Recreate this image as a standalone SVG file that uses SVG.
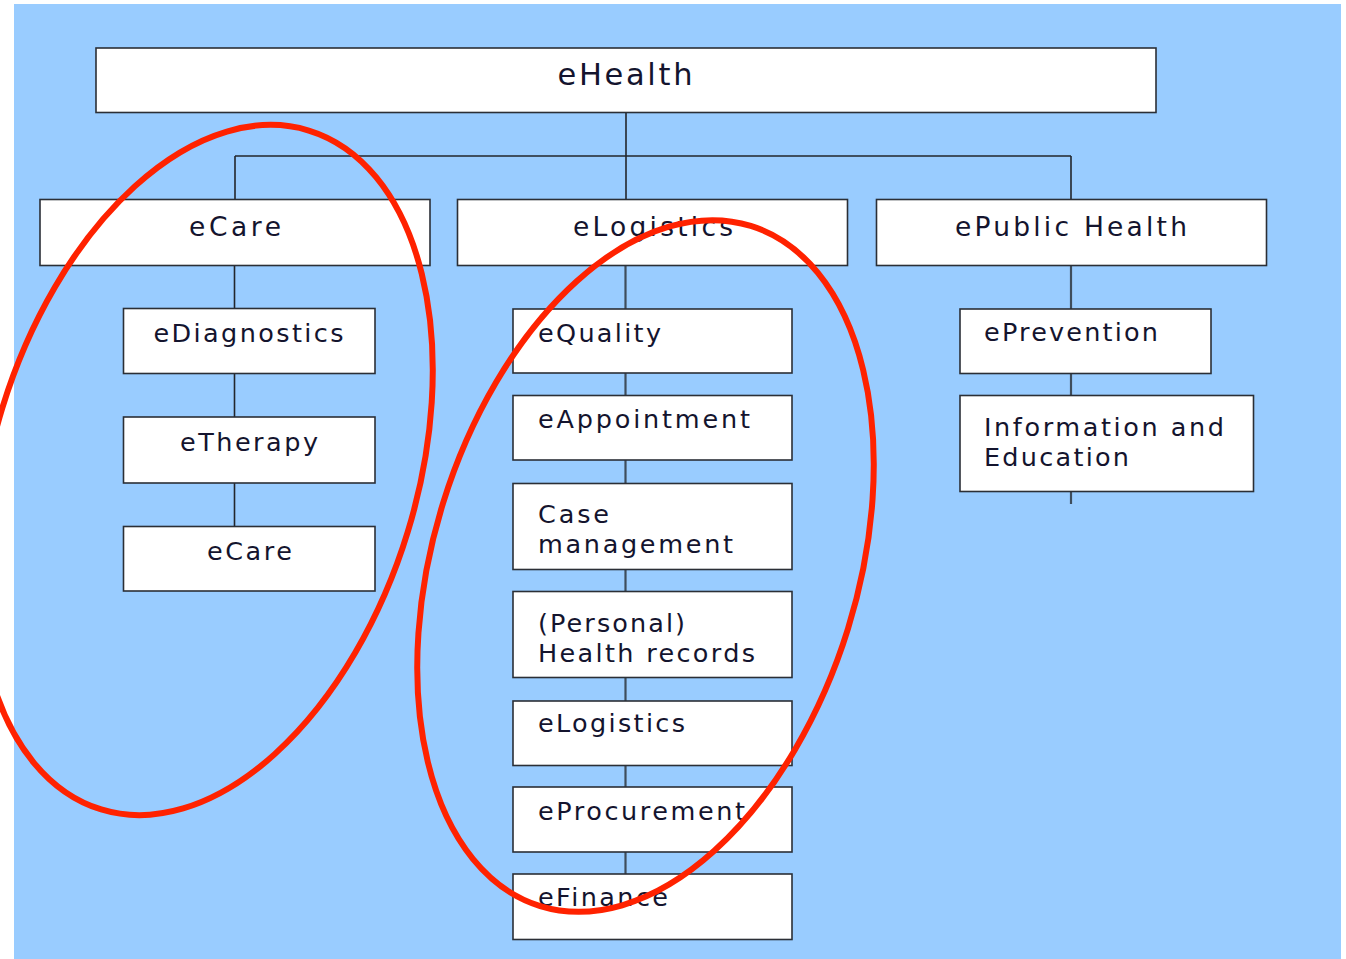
<svg xmlns="http://www.w3.org/2000/svg" width="1346" height="959" viewBox="0 0 1346 959">
<style>
.box{fill:#ffffff;stroke:#2b2f36;stroke-width:1.6}
.t{font-family:"DejaVu Sans","Liberation Sans",sans-serif;fill:#14142e;font-size:25.5px}
.th{font-size:26.5px}
.c{text-anchor:middle}
.ln{stroke:#22262c;stroke-width:1.6;fill:none}
.lg{stroke:#3e4d5c;stroke-width:2.2;fill:none}
.ring{fill:none;stroke:#ff2200;stroke-width:6}
</style>
<rect x="0" y="0" width="1346" height="959" fill="#ffffff"/>
<rect x="14" y="4" width="1327" height="955" fill="#99ccff"/>
<g id="connectors">
<path class="ln" d="M626 112V156M235 156H1071M235 156V200M626 156V200M1071 156V200"/>
<path class="ln" d="M234.5 265V527"/>
<path class="lg" d="M625.5 265V874"/>
<path class="lg" d="M1071 265V504"/>
</g>
<g id="n-ehealth"><rect class="box" x="96" y="48" width="1060" height="64.5"/><text class="t c" x="625" y="84.5" style="font-size:30.5px" textLength="135" lengthAdjust="spacing">eHealth</text></g>
<g id="n-ecare-top"><rect class="box" x="40" y="199.5" width="390" height="66"/><text class="t th c" x="235" y="236" textLength="92" lengthAdjust="spacing">eCare</text></g>
<g id="n-elogistics-top"><rect class="box" x="457.5" y="199.5" width="390" height="66"/><text class="t th c" x="653" y="235.5" textLength="160" lengthAdjust="spacing">eLogistics</text></g>
<g id="n-epublichealth"><rect class="box" x="876.5" y="199.5" width="390" height="66"/><text class="t th c" x="1071" y="236" textLength="232" lengthAdjust="spacing">ePublic Health</text></g>
<g id="n-ediagnostics"><rect class="box" x="123.5" y="308.5" width="251.5" height="65"/><text class="t c" x="248.5" y="342" textLength="190" lengthAdjust="spacing">eDiagnostics</text></g>
<g id="n-etherapy"><rect class="box" x="123.5" y="417" width="251.5" height="66"/><text class="t c" x="249" y="451" textLength="138" lengthAdjust="spacing">eTherapy</text></g>
<g id="n-ecare"><rect class="box" x="123.5" y="526.5" width="251.5" height="64.5"/><text class="t c" x="249.5" y="559.5" textLength="85" lengthAdjust="spacing">eCare</text></g>
<g id="n-equality"><rect class="box" x="513" y="309" width="279" height="64"/><text class="t" x="538" y="342" textLength="123" lengthAdjust="spacing">eQuality</text></g>
<g id="n-eappointment"><rect class="box" x="513" y="395.5" width="279" height="64.5"/><text class="t" x="538" y="428" textLength="212" lengthAdjust="spacing">eAppointment</text></g>
<g id="n-casemanagement"><rect class="box" x="513" y="483.5" width="279" height="86"/><text class="t" x="538" y="523" textLength="71" lengthAdjust="spacing">Case</text><text class="t" x="538" y="552.5" textLength="195" lengthAdjust="spacing">management</text></g>
<g id="n-healthrecords"><rect class="box" x="513" y="591.5" width="279" height="86"/><text class="t" x="538" y="632" textLength="147" lengthAdjust="spacing">(Personal)</text><text class="t" x="538" y="662" textLength="217" lengthAdjust="spacing">Health records</text></g>
<g id="n-elogistics"><rect class="box" x="513" y="701" width="279" height="64.5"/><text class="t" x="538" y="732" textLength="147" lengthAdjust="spacing">eLogistics</text></g>
<g id="n-eprocurement"><rect class="box" x="513" y="787" width="279" height="65"/><text class="t" x="538" y="820" textLength="207" lengthAdjust="spacing">eProcurement</text></g>
<g id="n-efinance"><rect class="box" x="513" y="874" width="279" height="65.5"/><text class="t" x="538" y="906" textLength="130" lengthAdjust="spacing">eFinance</text></g>
<g id="n-eprevention"><rect class="box" x="960" y="309" width="251" height="64.5"/><text class="t" x="984" y="341" textLength="174" lengthAdjust="spacing">ePrevention</text></g>
<g id="n-infoeducation"><rect class="box" x="960" y="395.5" width="293.5" height="96"/><text class="t" x="984" y="436" textLength="240" lengthAdjust="spacing">Information and</text><text class="t" x="984" y="466" textLength="145" lengthAdjust="spacing">Education</text></g>
<g id="annotations">
<ellipse class="ring" cx="205" cy="470" rx="212" ry="355" transform="rotate(17 205 470)"/>
<ellipse class="ring" cx="645.5" cy="566" rx="212" ry="356" transform="rotate(17.2 645.5 566)"/>
</g>
</svg>
